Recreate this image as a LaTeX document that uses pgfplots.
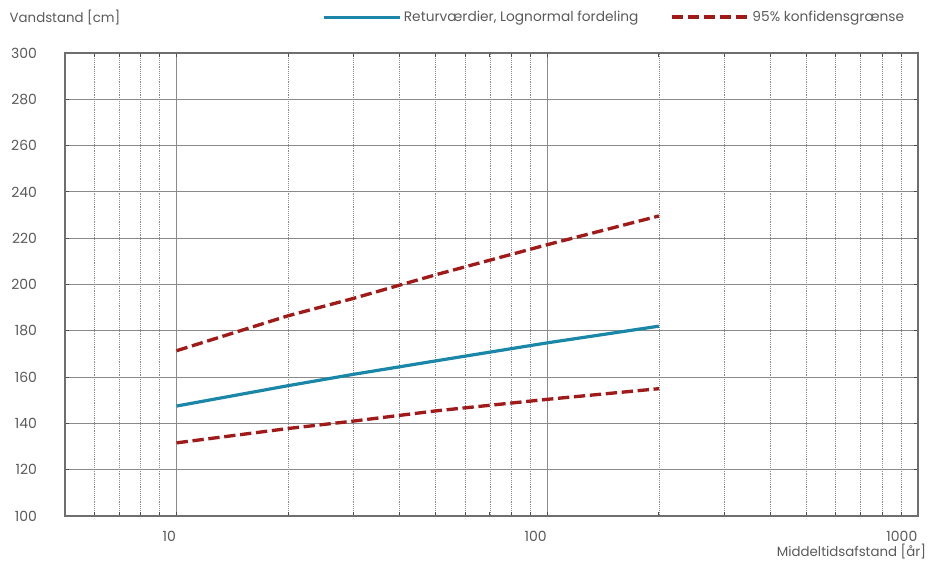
\documentclass[border=0pt]{standalone}
\usepackage{fontspec}
\setmainfont{Poppins}
\usepackage{pgfplots}
\pgfplotsset{compat=1.18}
\definecolor{lnblue}{HTML}{1B87A8}
\definecolor{lnred}{HTML}{A11A1A}
\definecolor{txtgray}{HTML}{5A5A5A}
\definecolor{gridgray}{HTML}{8A8A8A}
\begin{document}
\begin{tikzpicture}
\begin{axis}[
  scale only axis,
  width=639.75pt, height=347.25pt,
  xmode=log, log basis x=10,
  xmin=5, xmax=1000, ymin=100, ymax=300,
  xtick={10,100,1000}, xticklabels={10,100,1000},
  minor xtick={6,7,8,9,20,30,40,50,60,70,80,90,200,300,400,500,600,700,800,900},
  ytick={100,120,...,300},
  grid=both,
  major grid style={gridgray, line width=0.8pt},
  minor grid style={gridgray, densely dotted, line width=0.5pt},
  axis line style={gridgray!80!black, line width=0.8pt},
  tick style={black!70, line width=0.6pt},
  major tick length=3pt, minor tick length=3pt,
  tick align=inside,
  every tick label/.append style={font=\fontsize{10.5}{12}\selectfont, text=txtgray},
  /pgf/number format/assume math mode=true,
  yticklabel style={anchor=east, xshift=-17.5pt},
  xticklabel style={anchor=north east, xshift=3pt, yshift=-8pt},
  legend style={at={(0.301,1)}, anchor=south west, yshift=20pt, draw=none, fill=none,
    inner sep=0pt, font=\fontsize{10.3}{12}\selectfont, text=txtgray,
    /tikz/every even column/.append style={column sep=22pt}},
  legend columns=2,
  legend cell align=left,
  legend image code/.code={\draw[#1] (0pt,0pt) -- (57pt,0pt);},
  clip=false,
]
\addplot[lnblue, line width=2.4pt] coordinates {
  (10,147.5) (20,156.3) (30,161.2) (50,167.0) (100,174.8) (200,182.0)};
\addlegendentry{Returværdier, Lognormal fordeling}
\addplot[lnred, line width=2.5pt, dash pattern=on 8.5pt off 3.5pt] coordinates {
  (10,171.4) (20,186.5) (30,194.0) (50,204.2) (100,217.2) (200,229.6)};
\addlegendentry{95\% konfidensgrænse}
\addplot[lnred, line width=2.5pt, dash pattern=on 8.5pt off 3.5pt, forget plot] coordinates {
  (10,131.6) (20,137.8) (30,141.0) (50,145.4) (100,150.4) (200,155.0)};
\end{axis}
\node[anchor=west, text=txtgray, font=\fontsize{10}{12}\selectfont] at ([xshift=-45pt,yshift=26.5pt]current axis.north west) {Vandstand [cm]};
\node[anchor=east, text=txtgray, font=\fontsize{10}{12}\selectfont] at ([xshift=9.5pt,yshift=-27pt]current axis.south east) {Middeltidsafstand [år]};
\pgfresetboundingbox
\path ([xshift=-48.75pt,yshift=-38.25pt]current axis.south west) rectangle ([xshift=11.25pt,yshift=39.75pt]current axis.north east);
\end{tikzpicture}
\end{document}
